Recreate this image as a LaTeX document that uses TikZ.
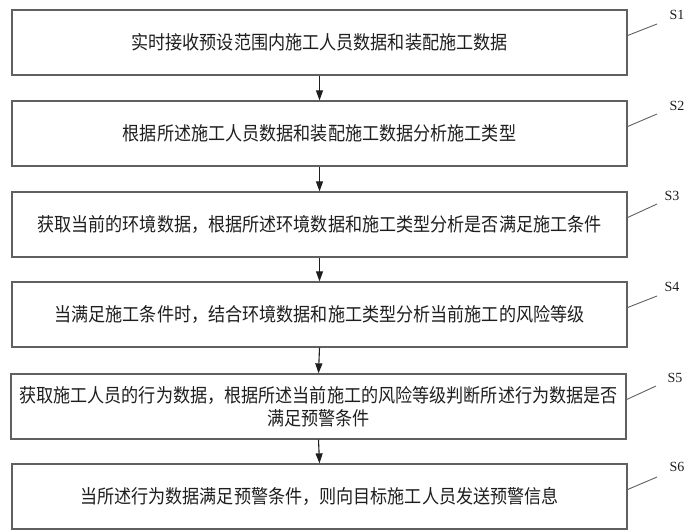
\documentclass[tikz,border=0pt]{standalone}
\usepackage{fontspec}
\setmainfont{Liberation Serif}
\newfontfamily\cjk[FakeStretch=0.9]{Noto Sans CJK SC}
\usetikzlibrary{arrows.meta}
\definecolor{boxgray}{RGB}{96,96,96}
\definecolor{inkgray}{RGB}{30,30,30}
\tikzset{
  stepbox/.style={draw=boxgray, line width=1.3pt, minimum width=615pt, minimum height=65pt,
    inner sep=0pt, align=center, text=inkgray, font=\cjk\fontsize{19pt}{22.5pt}\selectfont},
  steplabel/.style={font=\fontsize{14pt}{16pt}\selectfont, text=inkgray},
  flow/.style={-{Triangle[length=10pt,width=7pt]}, line width=1.1pt, draw=inkgray},
  leader/.style={line width=0.9pt, draw=boxgray}
}

\begin{document}
\begin{tikzpicture}[x=1pt, y=-1pt]
  \useasboundingbox (0,0) rectangle (687,531);
  % steps
  \node[stepbox] (s1) at (319.5,42.5) {实时接收预设范围内施工人员数据和装配施工数据};
  \node[stepbox] (s2) at (319.5,133.5) {根据所述施工人员数据和装配施工数据分析施工类型};
  \node[stepbox] (s3) at (319.5,224.5) {获取当前的环境数据，根据所述环境数据和施工类型分析是否满足施工条件};
  \node[stepbox] (s4) at (319.5,314.5) {当满足施工条件时，结合环境数据和施工类型分析当前施工的风险等级};
  \node[stepbox] (s5) at (318.5,406.5) {获取施工人员的行为数据，根据所述当前施工的风险等级判断所述行为数据是否\\满足预警条件};
  \node[stepbox] (s6) at (319.5,496.5) {当所述行为数据满足预警条件，则向目标施工人员发送预警信息};
  % flow
  \draw[flow] (s1.south) -- (s2.north);
  \draw[flow] (s2.south) -- (s3.north);
  \draw[flow] (s3.south) -- (s4.north);
  \draw[flow] (s4.south) -- (s5.north);
  \draw[flow] (s5.south) -- (s6.north);
  % step labels
  \node[steplabel] (l1) at (677,15) {S1};
  \node[steplabel] (l2) at (677,106) {S2};
  \node[steplabel] (l3) at (672,196) {S3};
  \node[steplabel] (l4) at (672,287) {S4};
  \node[steplabel] (l5) at (675,378) {S5};
  \node[steplabel] (l6) at (677,467) {S6};
  \coordinate (e1) at (657,24);
  \coordinate (e2) at (657,114);
  \coordinate (e3) at (657,204);
  \coordinate (e4) at (657,296);
  \coordinate (e5) at (656,386);
  \coordinate (e6) at (657,477);
  \draw[leader] ([yshift=7pt]s1.east) -- (e1);
  \draw[leader] ([yshift=7pt]s2.east) -- (e2);
  \draw[leader] ([yshift=7pt]s3.east) -- (e3);
  \draw[leader] ([yshift=7pt]s4.east) -- (e4);
  \draw[leader] ([yshift=7pt]s5.east) -- (e5);
  \draw[leader] ([yshift=7pt]s6.east) -- (e6);
\end{tikzpicture}
\end{document}
